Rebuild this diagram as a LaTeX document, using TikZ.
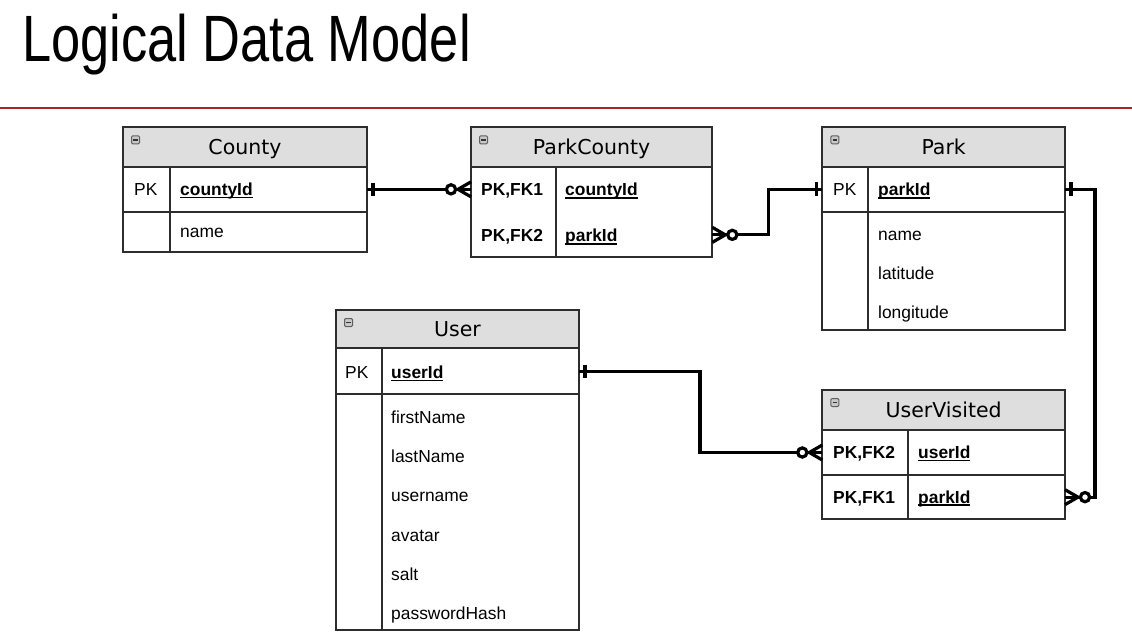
\documentclass[tikz,border=0pt]{standalone}
\usepackage{fontspec}
\usepackage{graphicx}
\setmainfont{Liberation Sans}
\newfontfamily\hdrfont{DejaVu Sans}
\definecolor{hdrgray}{RGB}{222,222,222}
\definecolor{boxgray}{RGB}{45,45,45}
\definecolor{rulered}{RGB}{165,38,38}
\definecolor{icongray}{RGB}{200,200,200}
\definecolor{iconedge}{RGB}{95,95,95}
\newcommand\keyul[1]{\setbox0\hbox{#1}\rlap{\rule[-2.6pt]{\wd0}{1.5pt}}\box0}
\begin{document}
\begin{tikzpicture}[x=1pt,y=-1pt,
  boxl/.style={draw=boxgray, line width=1.8pt},
  hdr/.style={boxl, fill=hdrgray, anchor=north west, inner sep=0pt, outer sep=0pt,
    minimum height=39.4pt, font=\hdrfont\fontsize{20.5}{24}\selectfont,
    text height=15pt, text depth=0pt},
  rowbox/.style={anchor=north west, inner sep=0pt, outer sep=0pt},
  fld/.style={anchor=west, inner sep=0pt, text height=12pt, text depth=0pt,
    font=\fontsize{17.4}{20}\selectfont},
  conn/.style={line width=3.2pt, black},
  minusicon/.pic={
    \draw[draw=iconedge, fill=icongray, rounded corners=1.2pt, line width=1pt] (8.5,8.5) rectangle (16.5,16.5);
    \draw[line width=1.6pt, black!80] (10.3,12.5) -- (14.7,12.5);
  },
  onebar/.pic={\draw[conn] (6,-6.8) -- (6,6.8);},
  zeromany/.pic={
    \draw[conn, line join=miter] (0,-7.5) -- (13,0) -- (0,7.5);
    \draw[conn, fill=white] (20,0) circle (4.6);
  }
]
\useasboundingbox (0,0) rectangle (1132,644);

% title and rule
\node[anchor=base west, inner sep=0pt] (title) at (22,62)
  {\scalebox{0.80}[1]{\fontsize{65.5}{70}\selectfont Logical Data Model}};
\draw[rulered, line width=2pt] (0,108.3) -- (1132,108.3);

% ---------------- County ----------------
\node[hdr, minimum width=244pt] (county) at (123,127.3) {County};
\pic at (county.north west) {minusicon};
\node[rowbox, boxl, minimum width=244pt, minimum height=45.3pt] (county-pk) at (county.south west) {};
\node[rowbox, boxl, minimum width=244pt, minimum height=40pt] (county-r2) at (county-pk.south west) {};
\draw[boxl] (170,166.7) -- (170,252);
\node[fld] (county-t1) at (134,189.5) {PK};
\node[fld] (county-t2) at (180,189.5) {\bfseries\keyul{countyId}};
\node[fld] (county-t3) at (180,232) {name};

% ---------------- ParkCounty ----------------
\node[hdr, minimum width=241.3pt] (pc) at (471,127.3) {ParkCounty};
\pic at (pc.north west) {minusicon};
\node[rowbox, boxl, minimum width=241.3pt, minimum height=90pt] (pc-body) at (pc.south west) {};
\node[rowbox, minimum width=241.3pt, minimum height=46.3pt] (pc-r1) at (pc.south west) {};
\node[rowbox, minimum width=241.3pt, minimum height=43.7pt] (pc-r2) at (pc-r1.south west) {};
\draw[boxl] (555.7,166.7) -- (555.7,256.7);
\node[fld] (pc-t1) at (481,190) {\bfseries PK,FK1};
\node[fld] (pc-t2) at (565,190) {\bfseries\keyul{countyId}};
\node[fld] (pc-t3) at (481,236) {\bfseries PK,FK2};
\node[fld] (pc-t4) at (565,236) {\bfseries\keyul{parkId}};

% ---------------- Park ----------------
\node[hdr, minimum width=242.7pt] (park) at (822.3,127.3) {Park};
\pic at (park.north west) {minusicon};
\node[rowbox, boxl, minimum width=242.7pt, minimum height=45pt] (park-pk) at (park.south west) {};
\node[rowbox, boxl, minimum width=242.7pt, minimum height=118.3pt] (park-body) at (park-pk.south west) {};
\draw[boxl] (868.3,166.7) -- (868.3,330);
\node[fld] (park-t1) at (833,190) {PK};
\node[fld] (park-t2) at (878,190) {\bfseries\keyul{parkId}};
\node[fld] (park-t3) at (878,234.3) {name};
\node[fld] (park-t4) at (878,273.3) {latitude};
\node[fld] (park-t5) at (878,312.3) {longitude};

% ---------------- User ----------------
\node[hdr, minimum width=243pt, minimum height=38.3pt] (user) at (336,310) {User};
\pic at (user.north west) {minusicon};
\node[rowbox, boxl, minimum width=243pt, minimum height=46pt] (user-pk) at (user.south west) {};
\node[rowbox, boxl, minimum width=243pt, minimum height=235.7pt] (user-body) at (user-pk.south west) {};
\draw[boxl] (381.7,348.3) -- (381.7,630);
\node[fld] (user-t1) at (345,372.5) {PK};
\node[fld] (user-t2) at (391,372.5) {\bfseries\keyul{userId}};
\node[fld] (user-t3) at (391,417.7) {firstName};
\node[fld] (user-t4) at (391,456.7) {lastName};
\node[fld] (user-t5) at (391,495.7) {username};
\node[fld] (user-t6) at (391,535) {avatar};
\node[fld] (user-t7) at (391,574.3) {salt};
\node[fld] (user-t8) at (391,613.3) {passwordHash};

% ---------------- UserVisited ----------------
\node[hdr, minimum width=242.7pt, minimum height=40pt] (uv) at (822.3,390) {UserVisited};
\pic at (uv.north west) {minusicon};
\node[rowbox, boxl, minimum width=242.7pt, minimum height=45pt] (uv-r1) at (uv.south west) {};
\node[rowbox, boxl, minimum width=242.7pt, minimum height=44.3pt] (uv-r2) at (uv-r1.south west) {};
\draw[boxl] (907.7,430) -- (907.7,519.3);
\node[fld] (uv-t1) at (833,452.7) {\bfseries PK,FK2};
\node[fld] (uv-t2) at (918,452.7) {\bfseries\keyul{userId}};
\node[fld] (uv-t3) at (833,497.3) {\bfseries PK,FK1};
\node[fld] (uv-t4) at (918,497.3) {\bfseries\keyul{parkId}};

% ---------------- connectors ----------------
\coordinate (c1end) at (county-pk.east -| pc-r1.west);
\draw[conn] (county-pk.east) -- (c1end);
\draw[conn] (pc-r2.east) -- ++(56,0) |- (park-pk.west);
\draw[conn] (park-pk.east) -- ++(30,0) |- (uv-r2.east);
\draw[conn] (user-pk.east) -- ++(121,0) |- (uv-r1.west);

% markers
\pic at (county-pk.east) {onebar};
\pic[xscale=-1] at (c1end) {zeromany};
\pic at (pc-r2.east) {zeromany};
\pic[xscale=-1] at (park-pk.west) {onebar};
\pic at (park-pk.east) {onebar};
\pic at (uv-r2.east) {zeromany};
\pic at (user-pk.east) {onebar};
\pic[xscale=-1] at (uv-r1.west) {zeromany};
\end{tikzpicture}
\end{document}
